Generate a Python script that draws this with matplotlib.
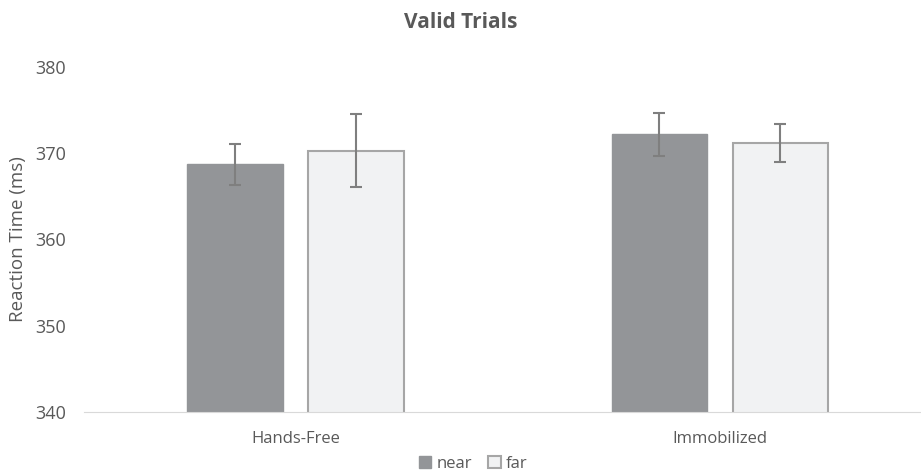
import matplotlib
matplotlib.use("Agg")
import matplotlib.pyplot as plt
import numpy as np

plt.rcParams['font.family'] = ['Open Sans', 'DejaVu Sans']

groups = ["Hands-Free", "Immobilized"]
near = [368.7, 372.2]
far = [370.3, 371.2]
near_err = [2.4, 2.5]
far_err = [4.2, 2.2]

txt = "#595959"
fig = plt.figure(figsize=(9.21, 4.74), dpi=100)
ax = fig.add_axes([0.091, 0.131, 0.909, 0.728])

x = np.arange(len(groups))
w = 0.226
off = 0.1427
ax.bar(x - off, near, w, color="#939598", edgecolor="#939598",
       yerr=near_err, ecolor="#7f7f7f", capsize=4, error_kw=dict(elinewidth=1.5, capthick=1.5),
       label="near", zorder=2)
ax.bar(x + off, far, w, color="#f1f2f3", edgecolor="#a6a6a6", linewidth=1.5,
       yerr=far_err, ecolor="#7f7f7f", capsize=4, error_kw=dict(elinewidth=1.5, capthick=1.5),
       label="far", zorder=2)

ax.set_ylim(340, 380)
ax.set_xlim(-0.5, 1.474)
ax.set_yticks([340, 350, 360, 370, 380])
ax.set_xticks(x)
ax.set_xticklabels(groups)
ax.tick_params(length=0, colors=txt)
ax.tick_params(axis='y', pad=13, labelsize=13)
ax.tick_params(axis='x', pad=14, labelsize=12)
for s in ["top", "right", "left"]:
    ax.spines[s].set_visible(False)
ax.spines["bottom"].set_color("#d9d9d9")
ax.spines["bottom"].set_zorder(3)

ax.set_ylabel("Reaction Time (ms)", color=txt, fontsize=13.5, labelpad=6)
fig.suptitle("Valid Trials", x=0.5, y=0.975, fontsize=15, fontweight="bold", color=txt)

leg = ax.legend(loc="upper center", bbox_to_anchor=(0.465, -0.093), ncol=2, frameon=False,
                fontsize=12, handlelength=0.75, handleheight=0.75, handletextpad=0.3,
                columnspacing=1.0, labelcolor=txt, borderpad=0.2)

fig.savefig("out.png", dpi=100)
